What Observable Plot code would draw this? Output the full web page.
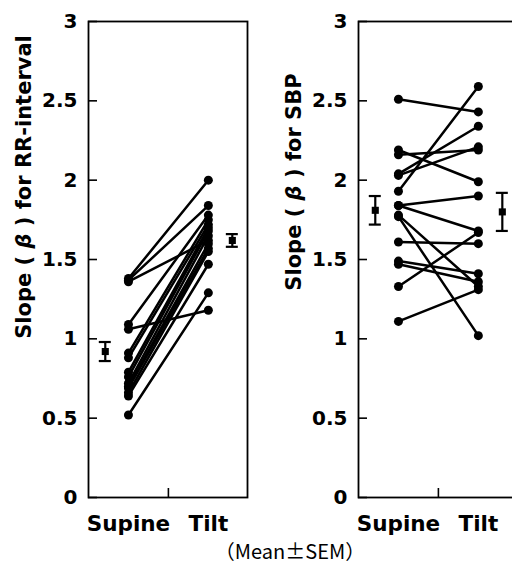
<!DOCTYPE html>
<html><head><meta charset="utf-8">
<script src="https://cdn.jsdelivr.net/npm/d3@7"></script>
<script src="https://cdn.jsdelivr.net/npm/@observablehq/plot@0.6"></script>
<style>
html,body{margin:0;padding:0;background:#fff;}
body{width:512px;height:564px;overflow:hidden;position:relative;}
.panel{position:absolute;top:0;width:256px;height:540px;}
.panel svg{max-width:none !important;width:256px;height:540px;}
#left{left:0;} #right{left:270px;}
#caption{position:absolute;top:538px;left:170px;width:240px;text-align:center;font:20px "Noto Sans CJK JP","Liberation Sans",sans-serif;color:#000;line-height:26px;}
</style></head><body>
<div id="left" class="panel"></div><div id="right" class="panel"></div>
<div id="caption"></div>
<script>
// ---- data ----
const conditions = ["Supine", "Tilt"];
const conditionPos = [1, 2];
const yTicks = [0, 0.5, 1, 1.5, 2, 2.5, 3];
const yTickLabels = ["0", "0.5", "1", "1.5", "2", "2.5", "3"];

const rrSupine = [1.38, 1.37, 1.36, 1.09, 1.06, 0.91, 0.88, 0.79, 0.76, 0.72, 0.70, 0.69, 0.66, 0.64, 0.52];
const rrTilt   = [2.00, 1.84, 1.62, 1.78, 1.18, 1.75, 1.72, 1.70, 1.68, 1.65, 1.60, 1.57, 1.55, 1.47, 1.29];
const rrMean = [0.92, 1.62];
const rrSem  = [0.06, 0.04];

const sbpSupine = [2.51, 2.19, 2.16, 2.04, 2.03, 1.93, 1.84, 1.84, 1.78, 1.77, 1.61, 1.49, 1.47, 1.33, 1.11];
const sbpTilt   = [2.43, 1.99, 2.19, 2.34, 2.21, 2.59, 1.90, 1.68, 1.33, 1.02, 1.60, 1.41, 1.36, 1.67, 1.31];
const sbpMean = [1.81, 1.80];
const sbpSem  = [0.09, 0.12];

const titleLeft  = ["Slope ( ", "β", " ) for RR-interval"];
const titleRight = ["Slope ( ", "β", " ) for SBP"];
const caption = "（Mean±SEM）";

// ---- layout (styling only) ----
const meanShift = [-0.29, 0.30];
const capHalf = 0.075;
const FONT = "DejaVu Sans";

function panel(supine, tilt, mean, sem, title, titleY) {
  const long = supine.flatMap((s, i) => [
    {id: i, x: conditionPos[0], y: s},
    {id: i, x: conditionPos[1], y: tilt[i]}
  ]);
  const means = mean.map((m, i) => ({x: conditionPos[i] + meanShift[i], m, lo: m - sem[i], hi: m + sem[i]}));
  const svg = Plot.plot({
    width: 256, height: 540,
    marginLeft: 88, marginRight: 9, marginTop: 21, marginBottom: 43,
    style: {fontFamily: FONT, background: "white", color: "black", overflow: "visible"},
    x: {domain: [0.5, 2.49], axis: null},
    y: {domain: [0, 3], axis: null},
    marks: [
      Plot.axisY({ticks: yTicks, tickFormat: (d) => yTickLabels[yTicks.indexOf(d)], tickSize: -9, tickPadding: 20,
                  fontSize: 20, fontWeight: "bold", label: null, strokeWidth: 1.6}),
      Plot.axisX({ticks: [1.5], tickSize: -9, tickFormat: () => "", label: null, strokeWidth: 1.6}),
      Plot.frame({stroke: "black", strokeWidth: 1.8}),
      Plot.text(conditions, {x: (d, i) => conditionPos[i], text: d => d, frameAnchor: "bottom", dy: 27,
                 fontSize: 21.5, fontWeight: "bold", lineAnchor: "middle"}),
      Plot.line(long, {x: "x", y: "y", z: "id", stroke: "black", strokeWidth: 2.5}),
      Plot.dot(long, {x: "x", y: "y", r: 4.5, fill: "black"}),
      Plot.ruleX(means, {x: "x", y1: "lo", y2: "hi", stroke: "black", strokeWidth: 2.2}),
      Plot.ruleY(means, {y: "lo", x1: d => d.x - capHalf, x2: d => d.x + capHalf, stroke: "black", strokeWidth: 2.2}),
      Plot.ruleY(means, {y: "hi", x1: d => d.x - capHalf, x2: d => d.x + capHalf, stroke: "black", strokeWidth: 2.2}),
      Plot.dot(means, {x: "x", y: "m", symbol: "square", r: 4, fill: "black"})
    ]
  });
  const t = d3.select(svg).append("text")
    .attr("transform", `translate(24,${titleY}) rotate(-90)`)
    .attr("text-anchor", "middle").attr("dominant-baseline", "central")
    .style("font-family", FONT).style("font-size", "21px").style("font-weight", "bold").attr("fill", "black");
  t.append("tspan").text(title[0]);
  t.append("tspan").style("font-style", "italic").text(title[1]);
  t.append("tspan").text(title[2]);
  return svg;
}

document.getElementById("left").appendChild(panel(rrSupine, rrTilt, rrMean, rrSem, titleLeft, 187));
document.getElementById("right").appendChild(panel(sbpSupine, sbpTilt, sbpMean, sbpSem, titleRight, 182));
document.getElementById("caption").textContent = caption;
</script>
</body></html>
